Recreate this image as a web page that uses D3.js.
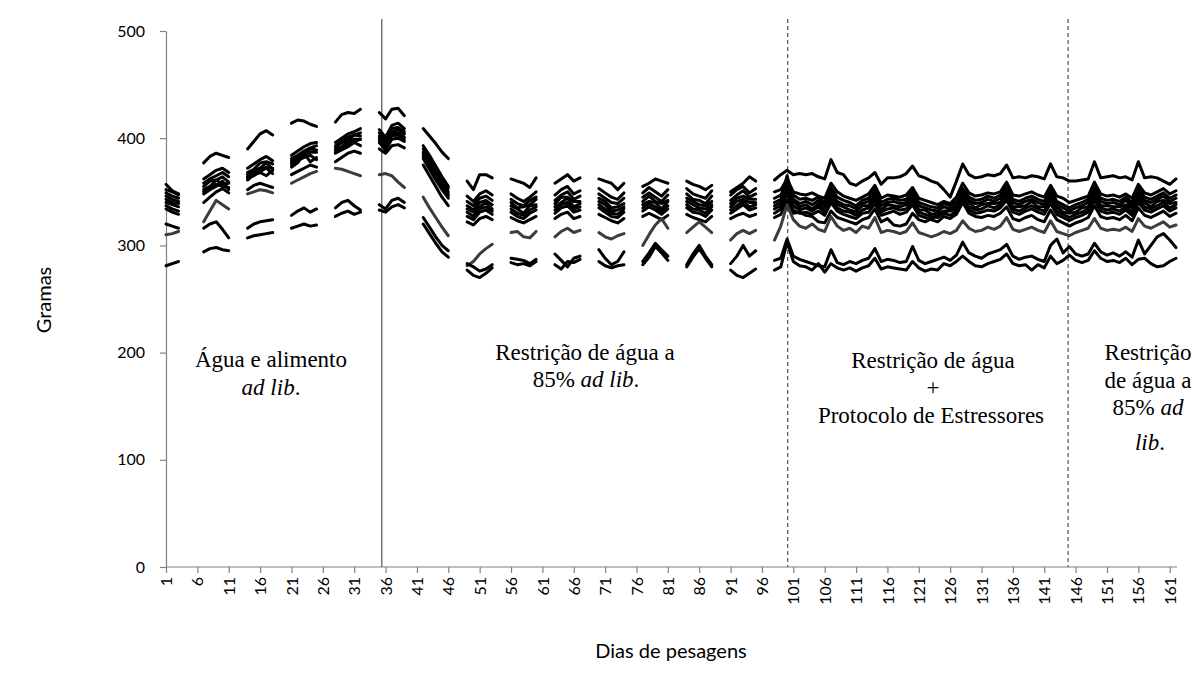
<!DOCTYPE html>
<html>
<head>
<meta charset="utf-8">
<script src="https://cdnjs.cloudflare.com/ajax/libs/d3/7.8.5/d3.min.js"></script>
<style>
body { margin: 0; background: #fff; }
</style>
</head>
<body>
<div id="chart"></div>
<script>
/* Peso diario dos animais */

// weighing days (no weighing on weekends until day 98)
var days = [1,2,3,
	7,8,9,10,11, 14,15,16,17,18, 21,22,23,24,25, 28,29,30,31,32,
	35,36,37,38,39, 42,43,44,45,46,
	49,50,51,52,53, 56,57,58,59,60, 63,64,65,66,67, 70,71,72,73,74,
	77,78,79,80,81, 84,85,86,87,88, 91,92,93,94,95,
	98,99,100,101,102,103,104,105,106,107,
	108,109,110,111,112,113,114,115,116,117,
	118,119,120,121,122,123,124,125,126,127,
	128,129,130,131,132,133,134,135,136,137,
	138,139,140,141,142,143,144,145,146,147,
	148,149,150,151,152,153,154,155,156,157,
	158,159,160,161,162];

var rat_a = [357,351,348, 377,383,386,384,382, 390,397,404,407,403, 414,417,416,413,411, 415,422,424,423,427,
	424,418,427,428,421, 409,402,395,387,381,
	360,352,366,366,363, 362,360,358,354,363, 358,362,366,360,363, 362,360,358,352,358, 355,358,362,360,358, 360,357,355,352,356, 350,354,358,364,360,
	361,366,370,366,367,366,367,364,362,380,
	368,366,358,356,360,363,368,357,363,363,
	364,367,374,365,363,360,358,352,345,360,
	376,366,363,364,366,365,367,375,363,364,
	363,365,364,362,376,364,363,360,360,361,
	362,378,363,364,365,363,364,361,378,363,
	364,363,360,357,362];

var rat_b = [352,350,347, 362,366,370,372,368, 372,376,380,383,379, 384,388,392,395,396, 396,400,404,406,409,
	408,401,412,414,409, 393,384,374,364,355,
	346,341,348,351,347, 348,344,341,345,350, 347,352,355,348,351, 353,349,345,343,349, 349,354,350,346,352, 353,348,346,344,351, 347,352,355,349,353,
	350,352,362,350,348,347,349,346,344,358,
	350,346,344,342,345,348,356,344,347,346,
	345,347,354,344,342,340,338,341,339,345,
	358,349,346,347,349,348,350,359,347,346,
	348,350,347,345,356,346,344,340,342,344,
	346,359,348,346,347,345,348,344,357,349,
	347,350,353,348,351];

var rat_c = [349,346,344, 358,362,365,368,364, 368,371,377,378,376, 381,384,388,391,393, 393,397,401,403,405,
	405,399,409,410,406, 390,380,371,362,353,
	341,337,344,346,342, 343,339,337,342,345, 342,347,350,343,346, 348,344,340,339,344, 345,349,345,341,347, 348,343,342,339,346, 342,347,351,345,348,
	344,347,358,347,343,344,342,345,340,354,
	345,342,340,337,342,344,352,340,343,344,
	342,343,351,340,338,336,335,339,337,341,
	353,345,342,343,346,344,347,355,343,341,
	344,346,343,341,352,341,338,335,338,340,
	343,355,344,342,343,341,345,340,353,345,
	343,346,349,344,347];

var rat_d = [346,343,341, 355,360,361,364,359, 366,370,372,377,371, 379,383,385,390,389, 391,396,398,403,402,
	402,396,406,408,404, 387,378,369,359,350,
	337,333,340,342,338, 340,335,336,338,343, 339,345,345,341,341, 344,341,335,336,339, 341,346,341,339,342, 344,341,338,337,341, 339,344,346,343,343,
	340,343,365,343,339,341,338,342,337,350,
	341,338,337,334,339,341,349,337,340,341,
	339,340,348,337,335,333,332,336,334,338,
	350,342,339,340,343,341,344,352,340,338,
	341,343,340,338,349,338,335,332,335,337,
	340,352,341,339,340,338,342,337,350,342,
	340,343,346,341,344];

var rat_e = [343,340,339, 352,355,361,357,358, 364,367,371,373,372, 377,381,384,387,387, 389,392,397,399,399,
	400,393,404,405,401, 385,376,366,357,348,
	334,331,336,340,334, 337,334,330,337,338, 336,340,344,336,339, 341,338,332,333,336, 338,341,340,334,341, 341,338,335,334,338, 336,341,343,340,340,
	337,340,356,341,336,338,334,339,333,347,
	338,336,333,331,337,337,346,333,338,337,
	336,338,345,333,333,329,330,332,332,334,
	347,340,335,338,339,339,340,349,336,336,
	337,341,336,336,345,336,331,330,331,335,
	336,349,337,337,336,336,338,335,346,340,
	336,341,342,339,340];

var rat_f = [340,338,336, 350,353,357,355,354, 363,365,369,372,367, 375,379,382,384,380, 387,391,394,397,399,
	398,391,402,403,399, 383,374,364,355,346,
	331,327,334,336,332, 334,330,328,333,336, 333,338,340,334,336, 338,334,330,329,334, 335,339,336,332,337, 338,334,333,330,336, 333,337,341,336,338,
	334,337,352,337,333,335,332,336,331,344,
	335,332,331,328,333,335,343,331,334,335,
	333,334,342,331,329,327,326,330,328,332,
	344,336,333,334,337,335,338,346,334,332,
	335,337,334,332,343,332,329,326,329,331,
	334,346,335,333,334,332,336,331,344,336,
	334,337,340,335,338];

var rat_g = [337,334,332, 348,352,355,360,352, 361,366,368,365,370, 373,377,386,378,382, 386,389,392,396,393,
	396,389,399,400,397, 381,371,361,352,344,
	327,324,331,333,329, 331,327,325,330,333, 330,335,337,331,333, 335,331,327,326,331, 332,336,333,329,334, 335,331,330,327,333, 330,334,338,333,335,
	330,334,348,333,330,331,329,332,328,340,
	332,329,327,325,330,331,339,328,330,332,
	329,331,338,328,326,324,322,327,325,329,
	340,333,330,331,333,332,335,342,331,329,
	332,334,331,329,339,329,326,323,326,328,
	331,342,332,330,331,329,333,328,340,333,
	331,334,337,332,335];

var rat_h = [334,331,329, 340,345,350,353,349, 352,356,358,356,354, 366,369,372,375,373, 378,382,386,388,386,
	390,386,393,394,391, 375,365,355,345,337,
	322,319,325,327,324, 326,323,321,324,327, 325,329,331,325,327, 329,326,323,321,325, 327,330,327,324,328, 329,326,324,322,327, 325,328,330,327,329,
	326,329,342,330,331,328,327,322,321,332,
	326,324,322,320,324,326,334,322,325,319,
	318,320,330,324,322,325,328,331,333,335,
	340,330,327,326,328,327,330,336,325,323,
	326,328,324,322,333,324,321,318,321,323,
	326,337,327,325,326,324,328,323,335,328,
	326,329,332,327,330];

var rat_i = [310,311,313, 322,332,342,338,334, 348,350,352,351,349, 358,361,364,367,369, 372,371,369,367,365,
	366,367,365,359,354, 345,335,326,317,309,
	281,285,292,297,301, 312,313,308,307,313, 308,313,316,312,314, 312,308,306,309,311, 300,310,319,325,316, 312,317,322,317,312, 305,311,314,311,314,
	305,318,338,324,318,316,320,315,313,327,
	318,314,316,312,318,316,326,312,314,313,
	311,313,321,312,310,308,310,313,311,314,
	323,316,313,314,317,315,318,326,315,313,
	315,317,314,312,323,313,311,309,312,314,
	316,325,316,314,315,314,317,313,325,318,
	316,319,322,317,319];

var rat_j = [320,318,316, 316,320,322,315,307, 316,320,322,323,324, 328,332,335,331,334, 335,340,342,337,333,
	338,334,342,344,340, 326,317,308,300,295,
	283,280,276,278,282, 288,287,286,283,287, 292,286,280,288,290, 296,288,282,285,294, 285,293,302,296,290, 282,292,300,290,282, 283,290,300,290,295,
	286,288,306,290,287,285,283,281,280,296,
	284,282,285,283,286,288,297,285,287,286,
	284,285,299,286,283,285,287,289,286,291,
	303,293,290,288,292,294,296,301,290,287,
	289,290,287,285,300,306,293,299,292,290,
	292,302,294,291,293,290,294,289,305,292,
	300,308,311,305,298];

var rat_k = [281,283,285, 294,297,298,296,295, 307,309,310,311,312, 316,318,320,318,319, 327,330,332,329,331,
	333,331,336,338,335, 320,311,302,294,289,
	277,272,270,274,279, 284,282,283,281,285, 282,278,285,284,287, 285,281,279,281,282, 282,289,299,293,286, 280,289,297,288,280, 277,272,270,274,278,
	277,280,303,285,281,280,277,283,275,283,
	279,277,279,276,279,281,288,278,280,279,
	278,277,285,279,276,278,277,283,281,285,
	290,285,281,280,283,285,287,292,283,281,
	282,277,282,279,290,283,286,291,286,284,
	286,295,288,285,286,284,288,282,287,288,
	283,280,281,285,288];

var rats       = [rat_a, rat_b, rat_c, rat_d, rat_e, rat_f, rat_g, rat_h, rat_i, rat_j, rat_k];
var gray_rat   = 8;

var y_ticks    = [0, 100, 200, 300, 400, 500];
var x_ticks    = [1,6,11,16,21,26,31,36,41,46,51,56,61,66,71,76,81,86,91,96,101,106,111,116,121,126,131,136,141,146,151,156,161];

// phase boundaries (in days)
var phase_marks = [35.4, 100.1, 144.8];

var chart_width  = 1202;
var chart_height = 681;

var svg = d3.select('#chart')
		.append('svg')
		.attr('width', chart_width)
		.attr('height', chart_height)
		.style('background', '#fff');

var x_scale = d3.scaleLinear()
		.domain([1, 162])
		.range([166, 1176]);

var y_scale = d3.scaleLinear()
		.domain([0, 500])
		.range([567, 31]);

// Axes
var y_axis = svg.append('g')
		.attr('transform', 'translate(166,0)')
		.call(d3.axisLeft(y_scale).tickValues(y_ticks).tickSize(6).tickSizeOuter(0).tickPadding(15));

var x_axis = svg.append('g')
		.attr('transform', 'translate(0,567)')
		.call(d3.axisBottom(x_scale).tickValues(x_ticks).tickSize(6).tickSizeOuter(0));

x_axis.select('.domain').attr('d', 'M166,0H1177');

x_axis.selectAll('text')
		.attr('transform', 'rotate(-90)')
		.attr('x', -10)
		.attr('y', 0)
		.attr('dy', '0.35em')
		.style('text-anchor', 'end');

svg.selectAll('.domain, .tick line')
		.attr('stroke', '#808080')
		.attr('stroke-width', 1.2);

svg.selectAll('.tick text')
		.attr('fill', '#000')
		.style('font-family', 'Lato, "Liberation Sans", sans-serif')
		.style('font-size', '16px');

// Phase separators
svg.selectAll('line.phase')
		.data(phase_marks)
		.enter()
		.append('line')
		.attr('class', 'phase')
		.attr('x1', function(d){ return x_scale(d); })
		.attr('x2', function(d){ return x_scale(d); })
		.attr('y1', 19)
		.attr('y2', 567)
		.attr('stroke', '#505050')
		.attr('stroke-width', 1.2)
		.attr('stroke-dasharray', function(d, i){ return i === 0 ? null : '4,3'; });

// split each animal into runs of consecutive days
function segments(values){
	var segs = [], cur = [];
	values.forEach(function(v, i){
		if(i > 0 && days[i] - days[i - 1] > 1){
			segs.push(cur);
			cur = [];
		}
		cur.push({ day: days[i], w: v });
	});
	segs.push(cur);
	return segs;
}

var line = d3.line()
		.x(function(d){ return x_scale(d.day); })
		.y(function(d){ return y_scale(d.w); });

var groups = svg.selectAll('g.rat')
		.data(rats)
		.enter()
		.append('g')
		.attr('class', 'rat')
		.attr('stroke', function(d, i){ return i === gray_rat ? '#3c3c3c' : '#000'; });

groups.selectAll('path')
		.data(function(d){ return segments(d); })
		.enter()
		.append('path')
		.attr('d', line)
		.attr('fill', 'none')
		.attr('stroke-width', 3)
		.attr('stroke-linejoin', 'round')
		.attr('stroke-linecap', 'round');

// Axis titles
svg.append('text')
		.text('Gramas')
		.attr('transform', 'translate(51,300) rotate(-90)')
		.attr('text-anchor', 'middle')
		.style('font-family', 'Lato, "Liberation Sans", sans-serif')
		.style('font-size', '20px');

svg.append('text')
		.text('Dias de pesagens')
		.attr('x', 671)
		.attr('y', 658)
		.attr('text-anchor', 'middle')
		.style('font-family', 'Lato, "Liberation Sans", sans-serif')
		.style('font-size', '20px');

// Phase labels
var notes = [
	{ x: 271, y: 367, parts: [['Água e alimento', false]] },
	{ x: 271, y: 395, parts: [['ad lib', true], ['.', false]] },
	{ x: 585, y: 360, parts: [['Restrição de água a', false]] },
	{ x: 586, y: 387, parts: [['85% ', false], ['ad lib', true], ['.', false]] },
	{ x: 933, y: 368, parts: [['Restrição de água', false]] },
	{ x: 933, y: 395, parts: [['+', false]] },
	{ x: 931, y: 423, parts: [['Protocolo de Estressores', false]] },
	{ x: 1148, y: 360, parts: [['Restrição', false]] },
	{ x: 1148, y: 388, parts: [['de água a', false]] },
	{ x: 1148, y: 415, parts: [['85% ', false], ['ad', true]] },
	{ x: 1150, y: 450, parts: [['lib', true], ['.', false]] }
];

var note = svg.selectAll('text.note')
		.data(notes)
		.enter()
		.append('text')
		.attr('class', 'note')
		.attr('x', function(d){ return d.x; })
		.attr('y', function(d){ return d.y; })
		.attr('text-anchor', 'middle')
		.style('font-family', '"Liberation Serif", "Times New Roman", serif')
		.style('font-size', '23px');

note.selectAll('tspan')
		.data(function(d){ return d.parts; })
		.enter()
		.append('tspan')
		.text(function(d){ return d[0]; })
		.style('font-style', function(d){ return d[1] ? 'italic' : 'normal'; });
</script>
</body>
</html>
